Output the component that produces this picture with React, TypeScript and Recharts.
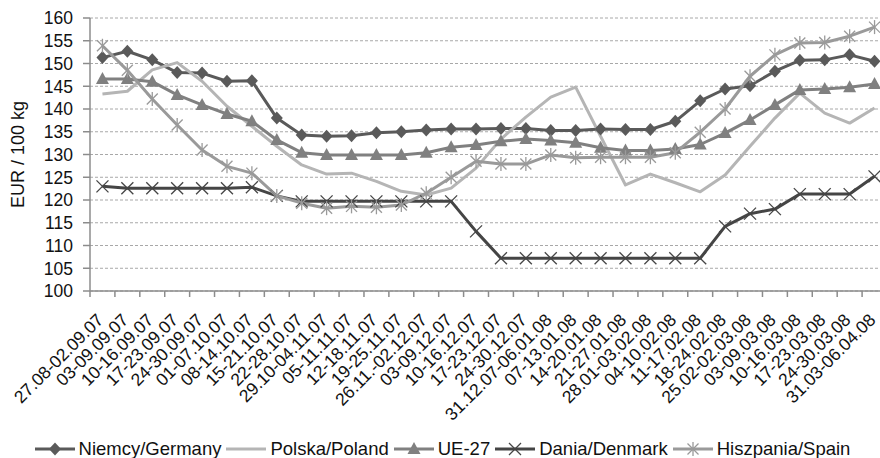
import React from 'react';
import { LineChart, Line, XAxis, YAxis, CartesianGrid } from 'recharts';

// weekly categories (x axis)
const weeks = [
  '27.08-02.09.07', '03-09.09.07', '10-16.09.07', '17-23.09.07', '24-30.09.07',
  '01-07.10.07', '08-14.10.07', '15-21.10.07', '22-28.10.07', '29.10-04.11.07',
  '05-11.11.07', '12-18.11.07', '19-25.11.07', '26.11.-02.12.07', '03-09.12.07',
  '10-16.12.07', '17-23.12.07', '24-30.12.07', '31.12.07-06.01.08', '07-13.01.08',
  '14-20.01.08', '21-27.01.08', '28.01-03.02.08', '04-10.02.08', '11-17.02.08',
  '18-24.02.08', '25.02-02.03.08', '03-09.03.08', '10-16.03.08', '17-23.03.08',
  '24-30.03.08', '31.03-06.04.08',
];

// EUR / 100 kg
const germany = [
  151.3, 152.7, 150.8, 148.0, 147.9, 146.1, 146.2, 138.0, 134.3, 134.0, 134.1,
  134.8, 135.0, 135.4, 135.6, 135.6, 135.7, 135.7, 135.3, 135.3, 135.6, 135.5,
  135.5, 137.3, 141.8, 144.4, 145.1, 148.3, 150.7, 150.8, 151.9, 150.5,
];
const poland = [
  143.3, 143.9, 148.6, 150.2, 146.1, 140.6, 136.2, 131.8, 127.7, 125.7, 125.9,
  124.1, 121.9, 121.1, 122.6, 127.0, 133.4, 138.2, 142.6, 144.8, 134.0, 123.3,
  125.7, 123.8, 121.8, 125.5, 131.8, 138.0, 143.5, 139.1, 136.9, 140.2,
];
const eu27 = [
  146.6, 146.6, 146.0, 143.1, 140.9, 138.9, 137.3, 133.2, 130.4, 129.9, 129.9,
  129.9, 129.9, 130.4, 131.6, 132.1, 132.9, 133.4, 133.1, 132.6, 131.5, 130.9,
  130.9, 131.2, 132.2, 134.7, 137.6, 140.9, 144.2, 144.4, 144.8, 145.5,
];
const denmark = [
  123.0, 122.6, 122.6, 122.6, 122.6, 122.6, 122.8, 120.9, 119.7, 119.7, 119.7,
  119.7, 119.7, 119.7, 119.7, 113.1, 107.2, 107.2, 107.2, 107.2, 107.2, 107.2,
  107.2, 107.2, 107.2, 114.2, 117.0, 118.0, 121.3, 121.3, 121.3, 125.2,
];
const spain = [
  153.9, 148.5, 142.2, 136.5, 131.0, 127.4, 125.9, 120.9, 119.3, 118.2, 118.6,
  118.4, 118.9, 121.5, 125.0, 128.5, 127.9, 127.9, 129.9, 129.3, 129.4, 129.4,
  129.4, 130.4, 134.9, 140.0, 147.2, 151.9, 154.5, 154.6, 156.0, 158.0,
];

const yTicks = [100, 105, 110, 115, 120, 125, 130, 135, 140, 145, 150, 155, 160];

const series = [
  { key: 'germany', name: 'Niemcy/Germany', values: germany, color: '#5a5a5a', marker: 'diamond' },
  { key: 'poland', name: 'Polska/Poland', values: poland, color: '#b5b5b5', marker: 'none' },
  { key: 'eu27', name: 'UE-27', values: eu27, color: '#808080', marker: 'triangle' },
  { key: 'denmark', name: 'Dania/Denmark', values: denmark, color: '#454545', marker: 'x' },
  { key: 'spain', name: 'Hiszpania/Spain', values: spain, color: '#9a9a9a', marker: 'star' },
];

const data = weeks.map((week, i) => {
  const row: Record<string, any> = { week };
  series.forEach((s) => { row[s.key] = s.values[i]; });
  return row;
});

const FONT = '"Liberation Sans", Arial, sans-serif';
const AXIS = '#8c8c8c';
const CHART_W = 900;
const CHART_H = 458;
const Y_AXIS_W = 90;
const X_AXIS_H = 167;
const RIGHT = 13;
const PLOT_W = CHART_W - Y_AXIS_W - RIGHT;
const PLOT_BOTTOM = CHART_H - X_AXIS_H;
const BAND = PLOT_W / weeks.length;

function Marker({ kind, cx, cy, color }: { kind: string; cx: number; cy: number; color: string }) {
  if (kind === 'diamond') {
    return <polygon points={`${cx},${cy - 6.5} ${cx + 6},${cy} ${cx},${cy + 6.5} ${cx - 6},${cy}`} fill={color} />;
  }
  if (kind === 'triangle') {
    return <polygon points={`${cx},${cy - 7} ${cx + 6.5},${cy + 5} ${cx - 6.5},${cy + 5}`} fill={color} />;
  }
  if (kind === 'x') {
    return (
      <g stroke={color} strokeWidth={1.3}>
        <line x1={cx - 6} y1={cy - 6} x2={cx + 6} y2={cy + 6} />
        <line x1={cx - 6} y1={cy + 6} x2={cx + 6} y2={cy - 6} />
      </g>
    );
  }
  if (kind === 'star') {
    return (
      <g stroke={color} strokeWidth={1.3}>
        <line x1={cx - 5.5} y1={cy - 5.5} x2={cx + 5.5} y2={cy + 5.5} />
        <line x1={cx - 5.5} y1={cy + 5.5} x2={cx + 5.5} y2={cy - 5.5} />
        <line x1={cx} y1={cy - 7} x2={cx} y2={cy + 7} />
      </g>
    );
  }
  return null;
}

// category label rotated 45deg, plus the tick marks between categories
function WeekTick({ x, payload, index }: any) {
  const y = PLOT_BOTTOM;
  const tx = x + 2;
  const ty = y + 30;
  return (
    <g>
      <line x1={x - BAND / 2} x2={x - BAND / 2} y1={y} y2={y + 6} stroke={AXIS} strokeWidth={1.5} />
      {index === weeks.length - 1 && (
        <line x1={x + BAND / 2} x2={x + BAND / 2} y1={y} y2={y + 6} stroke={AXIS} strokeWidth={1.5} />
      )}
      <text x={tx} y={ty} textAnchor="end" transform={`rotate(-45, ${tx}, ${ty})`}
        fontSize={17.5} fontFamily={FONT} fill="#111">
        {payload.value}
      </text>
    </g>
  );
}

function ValueTick({ y, payload }: any) {
  return (
    <text x={73} y={y} dy="0.36em" textAnchor="end" fontSize={17.5} fontFamily={FONT} fill="#111">
      {payload.value}
    </text>
  );
}

function YTitle({ viewBox }: any) {
  const cy = viewBox.y + viewBox.height / 2;
  return (
    <text x={24} y={cy} transform={`rotate(-90, 24, ${cy})`} textAnchor="middle"
      fontSize={18} fontFamily={FONT} fill="#111">
      EUR / 100 kg
    </text>
  );
}

function LegendRow() {
  return (
    <div style={{
      position: 'absolute', top: 439, left: 5, width: 880, display: 'flex',
      justifyContent: 'center', fontFamily: FONT, fontSize: 18.5, lineHeight: '20px', color: '#111',
    }}>
      {series.map((s) => (
        <div key={s.key} style={{ display: 'flex', alignItems: 'center', marginRight: 5 }}>
          <svg width={40} height={20} style={{ marginRight: 4 }}>
            <line x1={0} x2={40} y1={10} y2={10} stroke={s.color} strokeWidth={3} />
            <Marker kind={s.marker} cx={20} cy={10} color={s.color} />
          </svg>
          <span style={{ whiteSpace: 'nowrap' }}>{s.name}</span>
        </div>
      ))}
    </div>
  );
}

export default function App() {
  return (
    <div style={{ position: 'absolute', left: 0, top: 0, width: 880, height: 458, overflow: 'hidden', background: '#fff' }}>
      <LineChart width={CHART_W} height={CHART_H} data={data} margin={{ top: 18, right: RIGHT, bottom: 0, left: 0 }}>
        <CartesianGrid vertical={false} stroke="#a8a8a8" strokeDasharray="3 2" />
        <XAxis dataKey="week" height={X_AXIS_H} interval={0} tickLine={false} tickSize={0} tickMargin={0}
          padding={{ left: BAND / 2, right: BAND / 2 }}
          axisLine={{ stroke: AXIS, strokeWidth: 1.5 }} tick={<WeekTick />} />
        <YAxis domain={[100, 160]} ticks={yTicks} width={Y_AXIS_W} interval={0}
          axisLine={{ stroke: AXIS, strokeWidth: 1.5 }} tickLine={{ stroke: AXIS, strokeWidth: 1.5 }}
          tickSize={7} tickMargin={10} tick={<ValueTick />}
          label={{ content: (props: any) => <YTitle {...props} /> }} />
        {series.map((s) => (
          <Line key={s.key} dataKey={s.key} name={s.name} stroke={s.color} strokeWidth={3}
            isAnimationActive={false} strokeLinejoin="round"
            dot={(p: any) => <Marker key={`${s.key}-${p.index}`} kind={s.marker} cx={p.cx} cy={p.cy} color={s.color} />}
            activeDot={false} />
        ))}
      </LineChart>
      <LegendRow />
    </div>
  );
}
